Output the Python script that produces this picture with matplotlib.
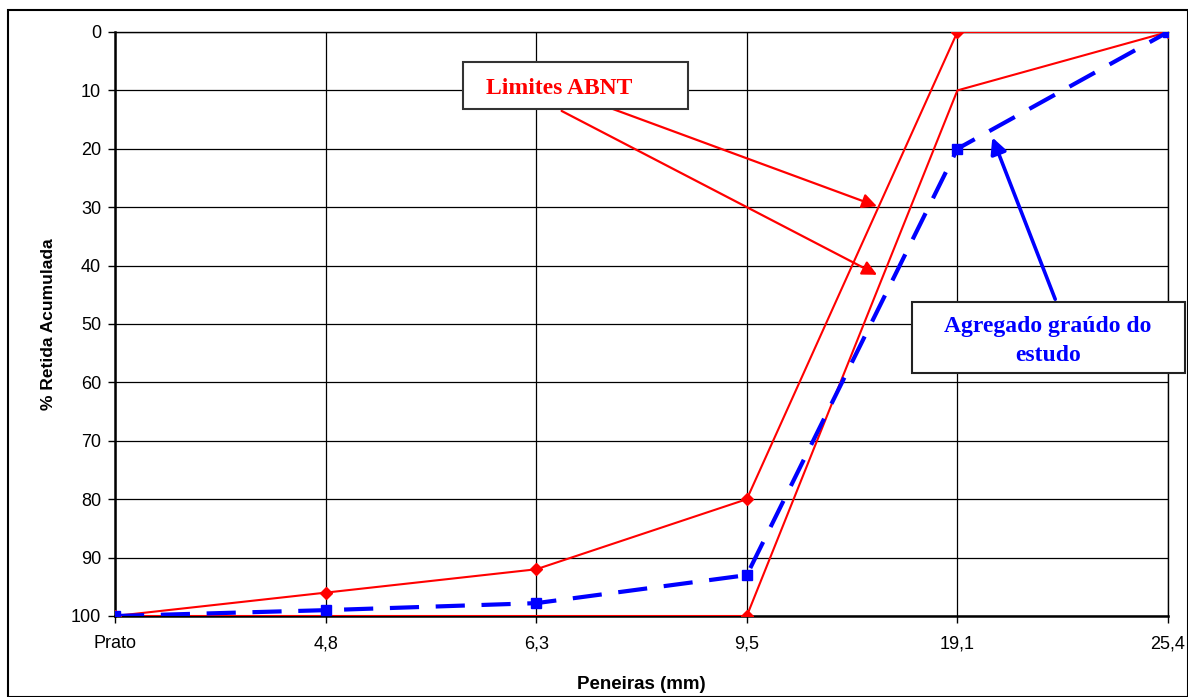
import matplotlib.pyplot as plt
from matplotlib.patches import Rectangle

peneiras = ['Prato', '4,8', '6,3', '9,5', '19,1', '25,4']
limite_superior = [100, 96, 92, 80, 0, 0]
limite_inferior = [100, 100, 100, 100, 10, 0]
agregado = [100, 99, 97.8, 93, 20, 0]

x = list(range(len(peneiras)))

fig = plt.figure(figsize=(11.88, 6.97), dpi=100)
ax = fig.add_axes([115/1188, 1 - 616/697, (1168 - 115)/1188, (616 - 32)/697])

# moldura externa
fig.patches.append(Rectangle((8/1188, 0), 1 - 8/1188, 1 - 10/697, transform=fig.transFigure,
                             fill=False, edgecolor='black', linewidth=1.5))

ax.plot(x, limite_superior, color='red', linewidth=1.5, marker='D', markersize=6, zorder=3)
ax.plot(x, limite_inferior, color='red', linewidth=1.5, marker='D', markersize=6,
        markevery=[0, 3], zorder=3)
ax.plot(x, agregado, color='blue', linewidth=3, linestyle=(0, (7, 4)), marker='s',
        markersize=7, zorder=4)

fs = 13
ax.set_xlim(0, 5)
ax.set_ylim(100, 0)
ax.set_xticks(x)
ax.set_xticklabels(peneiras, fontfamily='Liberation Sans', fontsize=fs)
ax.set_yticks(range(0, 101, 10))
ax.set_yticklabels([str(v) for v in range(0, 101, 10)], fontfamily='Liberation Sans', fontsize=fs)
ax.tick_params(axis='y', direction='out', length=5, width=1, pad=5)
ax.tick_params(axis='x', direction='out', length=5, width=1, pad=9)
ax.grid(True, color='black', linewidth=0.9)
ax.set_axisbelow(True)
for s in ax.spines.values():
    s.set_linewidth(1.0)
ax.spines['left'].set_linewidth(1.8)
ax.spines['bottom'].set_linewidth(1.8)

ax.set_xlabel('Peneiras (mm)', fontfamily='Liberation Sans', fontweight='bold', fontsize=13.5, labelpad=17)
ax.set_ylabel('% Retida Acumulada', fontfamily='Liberation Sans', fontweight='bold', fontsize=12.5, labelpad=11)

# anotação limites ABNT
ax.annotate('', xy=(4 - 78/211, 30), xytext=(2 + 23/211, 9.8),
            arrowprops=dict(arrowstyle='-|>', color='red', lw=1.6, mutation_scale=22), zorder=5)
ax.annotate('', xy=(4 - 78/211, 41.8), xytext=(1 + 234/211, 13.3),
            arrowprops=dict(arrowstyle='-|>', color='red', lw=1.6, mutation_scale=22), zorder=5)
fig.patches.append(Rectangle((463/1188, 1 - 109/697), 225/1188, 47/697, transform=fig.transFigure,
                             facecolor='white', edgecolor='#333333', linewidth=1.5, zorder=5))
fig.text(559/1188, 1 - 88/697, 'Limites ABNT', ha='center', va='center', color='red',
         fontweight='bold', fontsize=17, fontfamily='Liberation Serif', zorder=6)

# anotação agregado
ax.annotate('', xy=(4 + 34/211, 17.6), xytext=(4 + 99/211, 46.2),
            arrowprops=dict(arrowstyle='-|>', color='blue', lw=2.6, mutation_scale=24), zorder=5)
fig.patches.append(Rectangle((912/1188, 1 - 373/697), 273/1188, 71/697, transform=fig.transFigure,
                             facecolor='white', edgecolor='#222222', linewidth=1.5, zorder=5))
fig.text(1048/1188, 1 - 341/697, 'Agregado graúdo do\nestudo', ha='center', va='center',
         color='blue', fontweight='bold', fontsize=17, fontfamily='Liberation Serif',
         linespacing=1.45, zorder=6)

fig.savefig('out.png', dpi=100)
